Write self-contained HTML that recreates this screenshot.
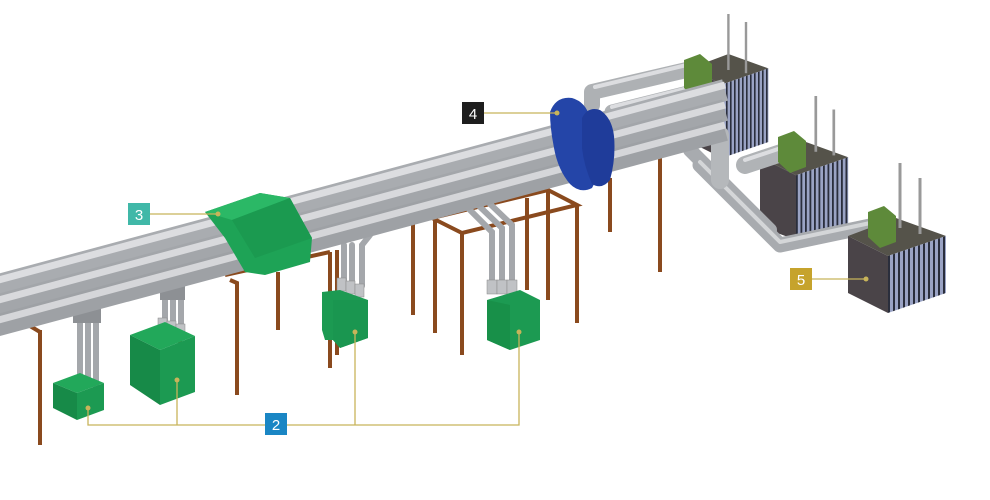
<!DOCTYPE html>
<html><head><meta charset="utf-8"><style>
html,body{margin:0;padding:0;background:#fff;width:990px;height:500px;overflow:hidden}
svg{display:block}
text{font-family:"Liberation Sans",sans-serif}
</style></head><body>
<svg width="990" height="500" viewBox="0 0 990 500" xmlns="http://www.w3.org/2000/svg">
<defs>
<pattern id="fin" width="5" height="10" patternUnits="userSpaceOnUse">
<rect width="5" height="10" fill="#9aa3c4"/><rect width="2" height="10" fill="#2a2e3c"/>
</pattern>
</defs>

<!-- back supports -->
<g stroke="#8a4a1e" stroke-width="4" fill="none">
<line x1="413" y1="222" x2="413" y2="315"/>
<line x1="548" y1="192" x2="548" y2="300"/>
<line x1="527" y1="198" x2="527" y2="290"/>
<line x1="610" y1="178" x2="610" y2="232"/>
<line x1="660" y1="155" x2="660" y2="272"/>
<line x1="278" y1="272" x2="278" y2="330"/>
<line x1="337" y1="250" x2="337" y2="355"/>
<polyline points="432,218 548,190 577,205 462,233 432,218"/>
<line x1="435" y1="218" x2="435" y2="333"/>
<line x1="462" y1="233" x2="462" y2="355"/>
<line x1="577" y1="205" x2="577" y2="323"/>
<polyline points="225,275 330,252"/>
<polyline points="230,280 237,283 237,395"/>
<line x1="330" y1="252" x2="330" y2="368"/>
<line x1="40" y1="330" x2="40" y2="445"/>
<line x1="30" y1="326" x2="40" y2="332"/>
<line x1="180" y1="290" x2="180" y2="355"/>
</g>

<!-- drops to green boxes -->
<g stroke="#a4a7ab" stroke-width="6" fill="none" stroke-linecap="round">
<line x1="80" y1="318" x2="80" y2="380"/><line x1="88" y1="318" x2="88" y2="383"/><line x1="96" y1="318" x2="96" y2="386"/>
<line x1="165" y1="295" x2="165" y2="320"/><line x1="173" y1="295" x2="173" y2="323"/><line x1="181" y1="295" x2="181" y2="326"/>
<line x1="344" y1="245" x2="344" y2="280"/><line x1="352" y1="245" x2="352" y2="283"/><polyline points="370,235 362,245 362,286"/>
<polyline points="468,208 492,232 492,285"/><polyline points="478,205 502,228 502,285"/><polyline points="488,202 512,225 512,285"/>
</g>
<rect x="73" y="305" width="28" height="18" fill="#8d9094"/>
<rect x="160" y="285" width="25" height="15" fill="#8d9094"/>
<g fill="#c0c2c5" stroke="#888" stroke-width="0.5">
<rect x="158" y="318" width="9" height="12"/><rect x="167" y="321" width="9" height="12"/><rect x="176" y="324" width="9" height="12"/>
<rect x="337" y="278" width="9" height="13"/><rect x="346" y="281" width="9" height="13"/><rect x="355" y="284" width="9" height="13"/>
<rect x="487" y="280" width="10" height="14"/><rect x="497" y="280" width="10" height="14"/><rect x="507" y="280" width="10" height="14"/>
</g>

<!-- green boxes -->
<g>
<polygon points="53,383 80,373 104,383 77,393" fill="#22a85a"/>
<polygon points="53,383 77,393 77,420 53,408" fill="#178a48"/>
<polygon points="77,393 104,383 104,410 77,420" fill="#1c9a52"/>
<polygon points="130,335 165,322 195,336 160,350" fill="#22a85a"/>
<polygon points="130,335 160,350 160,405 130,385" fill="#178a48"/>
<polygon points="160,350 195,336 195,392 160,405" fill="#1c9a52"/>
<polygon points="322,292 340,290 368,300 368,338 340,348 333,340 325,340 322,330" fill="#1c9a52"/>
<polygon points="333,300 368,300 368,338 340,348 333,340" fill="#1a9650"/>
<polygon points="487,300 520,290 540,300 540,340 510,350 487,340" fill="#1c9a52"/>
<polygon points="487,300 510,305 510,350 487,340" fill="#189049"/>
</g>

<!-- module 1 & 2 -->
<g transform="translate(690,62) scale(0.8)">
<polygon points="0,8 48,-10 98,8 40,28" fill="#55534a"/>
<polygon points="0,8 40,28 40,120 0,100" fill="#4a4448"/>
<polygon points="40,28 98,8 98,100 40,120" fill="url(#fin)"/>
<line x1="48" y1="-60" x2="48" y2="10" stroke="#999" stroke-width="3"/><line x1="70" y1="-50" x2="70" y2="14" stroke="#999" stroke-width="3"/>
</g>
<g transform="translate(760,150) scale(0.9)">
<polygon points="0,8 48,-10 98,8 40,28" fill="#55534a"/>
<polygon points="0,8 40,28 40,100 0,85" fill="#4a4448"/>
<polygon points="40,28 98,8 98,85 40,100" fill="url(#fin)"/>
<line x1="62" y1="-60" x2="62" y2="2" stroke="#999" stroke-width="3"/><line x1="82" y1="-45" x2="82" y2="6" stroke="#999" stroke-width="3"/>
</g>

<!-- right branch pipes -->
<g fill="none" stroke-linecap="round" stroke-linejoin="round">
<polyline points="690,150 770,230" stroke="#a8abaf" stroke-width="14"/>
<polyline points="700,165 780,245 875,225" stroke="#a8abaf" stroke-width="15"/>
<polyline points="700,162 780,242 875,222" stroke="#d4d6d8" stroke-width="4"/>
<line x1="720" y1="135" x2="720" y2="180" stroke="#b5b8bb" stroke-width="18"/>
<line x1="745" y1="165" x2="790" y2="150" stroke="#b0b3b6" stroke-width="18"/>
<line x1="745" y1="160" x2="790" y2="145" stroke="#dcdde0" stroke-width="4"/>
<polyline points="592,105 592,92 695,68" stroke="#aeb1b4" stroke-width="16"/>
<line x1="595" y1="87" x2="695" y2="63" stroke="#dcdde0" stroke-width="4"/>
<line x1="612" y1="112" x2="700" y2="90" stroke="#aeb1b4" stroke-width="15"/>
<line x1="612" y1="107" x2="700" y2="85" stroke="#dcdde0" stroke-width="4"/>
</g>

<!-- module 3 -->
<g transform="translate(848,228)">
<polygon points="0,8 48,-10 98,8 40,28" fill="#55534a"/>
<polygon points="0,8 40,28 40,85 0,65" fill="#4a4448"/>
<polygon points="40,28 98,8 98,65 40,85" fill="url(#fin)"/>
<line x1="52" y1="-65" x2="52" y2="0" stroke="#999" stroke-width="3"/><line x1="72" y1="-50" x2="72" y2="6" stroke="#999" stroke-width="3"/>
</g>
<!-- green clamps -->
<g fill="#5e8a3a">
<polygon points="684,60 700,54 712,64 712,92 696,98 684,88"/>
<polygon points="778,137 794,131 806,141 806,167 790,173 778,162"/>
<polygon points="868,212 884,206 896,216 896,242 880,248 868,237"/>
</g>

<!-- main pipes -->
<g fill="none" stroke-linecap="butt">
<line x1="-5" y1="286" x2="725" y2="90" stroke="#a9acb0" stroke-width="22"/>
<line x1="-5" y1="281" x2="725" y2="85" stroke="#dcdde0" stroke-width="7"/>
<line x1="-5" y1="306" x2="725" y2="110" stroke="#a3a6aa" stroke-width="22"/>
<line x1="-5" y1="301" x2="725" y2="105" stroke="#d8d9dc" stroke-width="7"/>
<line x1="-5" y1="326" x2="725" y2="130" stroke="#9ea1a5" stroke-width="22"/>
<line x1="-5" y1="321" x2="725" y2="125" stroke="#d5d6d9" stroke-width="7"/>
</g>

<!-- green box 3 -->
<polygon points="205,212 260,193 290,198 312,238 310,262 265,275 245,272 225,238" fill="#1ea356"/>
<polygon points="205,212 260,193 290,198 232,220" fill="#2bb866"/>
<polygon points="232,220 290,198 312,238 255,258" fill="#1b9a50"/>

<!-- flange -->
<path d="M550,112 q6,-16 22,-14 q14,4 18,20 l8,34 q2,22 -6,36 q-12,6 -22,-4 q-12,-14 -16,-36 q-4,-20 -4,-36 z" fill="#2445a8"/>
<path d="M582,118 q6,-12 18,-8 q12,8 14,26 q2,22 -4,44 q-8,10 -18,4 q-8,-18 -10,-36 z" fill="#1f3c9a"/>

<!-- leaders -->
<g stroke="#c8b45a" stroke-width="1.3" fill="none">
<polyline points="150,214 218,214"/>
<polyline points="484,113 557,113"/>
<polyline points="812,279 866,279"/>
<polyline points="88,408 88,425 265,425"/>
<polyline points="177,380 177,425"/>
<polyline points="287,425 519,425 519,332"/>
<polyline points="355,332 355,425"/>
</g>
<g fill="#c8b45a">
<circle cx="218" cy="214" r="2.5"/><circle cx="557" cy="113" r="2.5"/><circle cx="866" cy="279" r="2.5"/>
<circle cx="88" cy="408" r="2.5"/><circle cx="177" cy="380" r="2.5"/><circle cx="355" cy="332" r="2.5"/><circle cx="519" cy="332" r="2.5"/>
</g>
<!-- labels -->
<rect x="128" y="203" width="22" height="22" fill="#40b8a8"/><text x="139" y="220" font-size="15" fill="#fff" text-anchor="middle">3</text>
<rect x="462" y="102" width="22" height="22" fill="#1e1e1e"/><text x="473" y="119" font-size="15" fill="#fff" text-anchor="middle">4</text>
<rect x="790" y="268" width="22" height="22" fill="#c6a32c"/><text x="801" y="285" font-size="15" fill="#fff" text-anchor="middle">5</text>
<rect x="265" y="413" width="22" height="22" fill="#1a86c4"/><text x="276" y="430" font-size="15" fill="#fff" text-anchor="middle">2</text>
</svg>
</body></html>
